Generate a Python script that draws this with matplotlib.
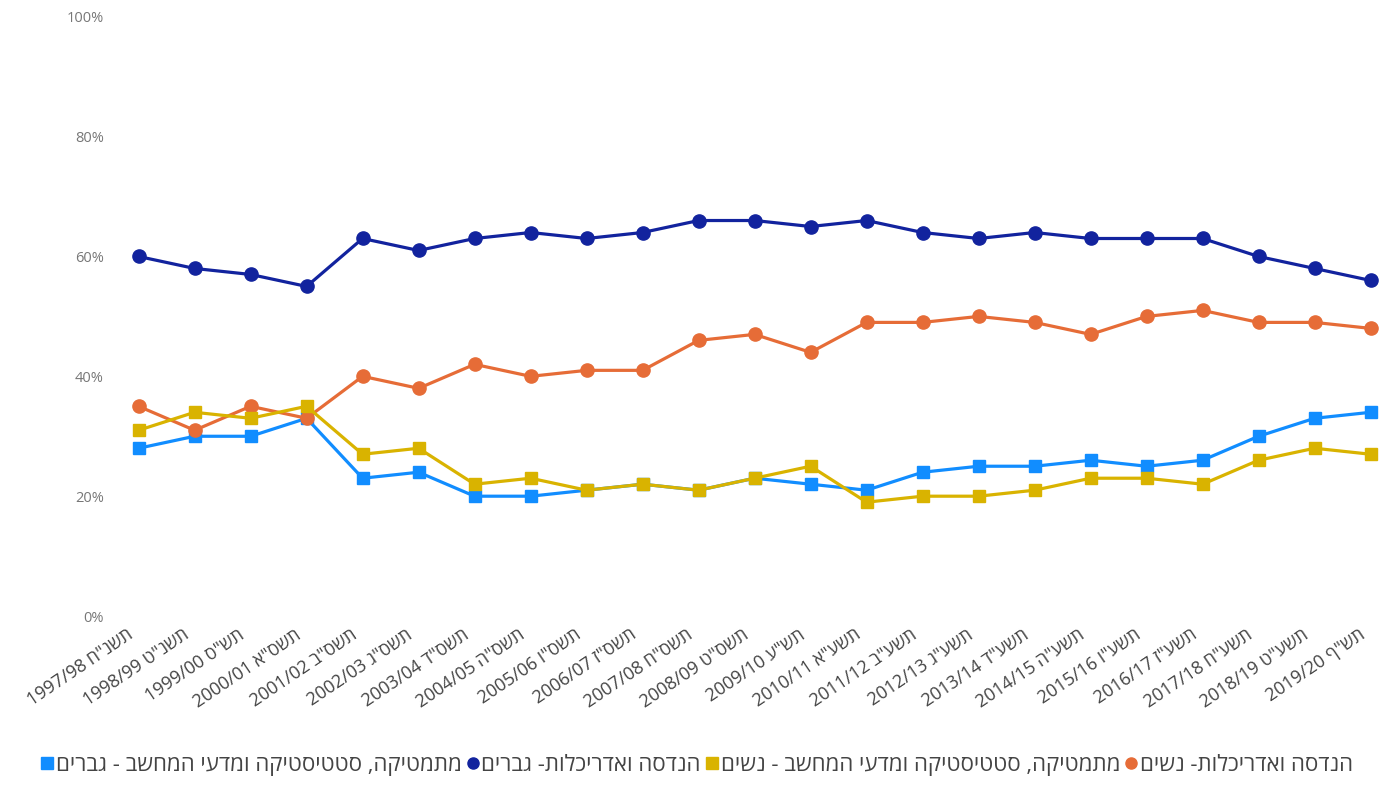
import matplotlib.pyplot as plt
from matplotlib.lines import Line2D
from matplotlib.transforms import ScaledTranslation

plt.rcParams['font.family'] = ['Open Sans', 'DejaVu Sans']

# --- נתונים ---
years = ["1997/98", "1998/99", "1999/00", "2000/01", "2001/02", "2002/03",
         "2003/04", "2004/05", "2005/06", "2006/07", "2007/08", "2008/09",
         "2009/10", "2010/11", "2011/12", "2012/13", "2013/14", "2014/15",
         "2015/16", "2016/17", "2017/18", "2018/19", "2019/20"]
heb_years = ['תשנ"ח', 'תשנ"ט', 'תש"ס', 'תשס"א', 'תשס"ב', 'תשס"ג', 'תשס"ד',
             'תשס"ה', 'תשס"ו', 'תשס"ז', 'תשס"ח', 'תשס"ט', 'תש"ע', 'תשע"א',
             'תשע"ב', 'תשע"ג', 'תשע"ד', 'תשע"ה', 'תשע"ו', 'תשע"ז', 'תשע"ח',
             'תשע"ט', 'תש"ף']

eng_men   = [60, 58, 57, 55, 63, 61, 63, 64, 63, 64, 66, 66, 65, 66, 64, 63, 64, 63, 63, 63, 60, 58, 56]
eng_women = [35, 31, 35, 33, 40, 38, 42, 40, 41, 41, 46, 47, 44, 49, 49, 50, 49, 47, 50, 51, 49, 49, 48]
math_men  = [28, 30, 30, 33, 23, 24, 20, 20, 21, 22, 21, 23, 22, 21, 24, 25, 25, 26, 25, 26, 30, 33, 34]
math_women = [31, 34, 33, 35, 27, 28, 22, 23, 21, 22, 21, 23, 25, 19, 20, 20, 21, 23, 23, 22, 26, 28, 27]

lbl_math_men = 'מתמטיקה, סטטיסטיקה ומדעי המחשב - גברים'
lbl_eng_men = 'הנדסה ואדריכלות- גברים'
lbl_math_women = 'מתמטיקה, סטטיסטיקה ומדעי המחשב - נשים'
lbl_eng_women = 'הנדסה ואדריכלות- נשים'

c_navy, c_orange, c_blue, c_yellow = '#12239E', '#E66C37', '#118DFF', '#D9B300'


def rtl(s):
    # matplotlib אינו תומך ב-bidi, לכן הופכים את הסדר לתצוגה
    return s[::-1]


x = list(range(len(years)))

fig = plt.figure(figsize=(14, 7.98), dpi=100)
ax = fig.add_axes([0.079, 0.228, 0.92, 0.751])

ax.plot(x, math_men, color=c_blue, lw=2.3, marker='s', ms=8)
ax.plot(x, eng_women, color=c_orange, lw=2.3, marker='o', ms=9.5)
ax.plot(x, math_women, color=c_yellow, lw=2.3, marker='s', ms=8)
ax.plot(x, eng_men, color=c_navy, lw=2.3, marker='o', ms=9.5)

ax.set_xlim(-0.5, len(years) - 0.5)
ax.set_ylim(0, 100)
ax.set_yticks(range(0, 101, 20))
ax.set_yticklabels([f"{v}%" for v in range(0, 101, 20)], fontsize=10.5, color='#777777')
ax.set_xticks(x)
ax.tick_params(length=0, axis='y', pad=5)
ax.tick_params(length=0, axis='x', pad=7)
ax.set_xticklabels([f"{y} {rtl(h)}" for y, h in zip(years, heb_years)],
                   rotation=34, ha='right', rotation_mode='anchor',
                   fontsize=13, color='#444444')
# הזזה קלה שמאלה של תוויות ציר x
shift = ScaledTranslation(-9 / 72, 0, fig.dpi_scale_trans)
for lab in ax.get_xticklabels():
    lab.set_transform(lab.get_transform() + shift)
for s in ax.spines.values():
    s.set_visible(False)

handles = [
    Line2D([], [], color=c_blue, marker='s', ls='none', ms=8),
    Line2D([], [], color=c_navy, marker='o', ls='none', ms=8),
    Line2D([], [], color=c_yellow, marker='s', ls='none', ms=8),
    Line2D([], [], color=c_orange, marker='o', ls='none', ms=8),
]
labels = [rtl(lbl_math_men), rtl(lbl_eng_men), rtl(lbl_math_women), rtl(lbl_eng_women)]
fig.legend(handles, labels, loc='center', bbox_to_anchor=(0.498, 0.041), ncol=4,
           frameon=False, fontsize=16, handlelength=0.5, handletextpad=0.15,
           columnspacing=0.25, labelcolor='#444444')

fig.savefig('out.png', dpi=100)
